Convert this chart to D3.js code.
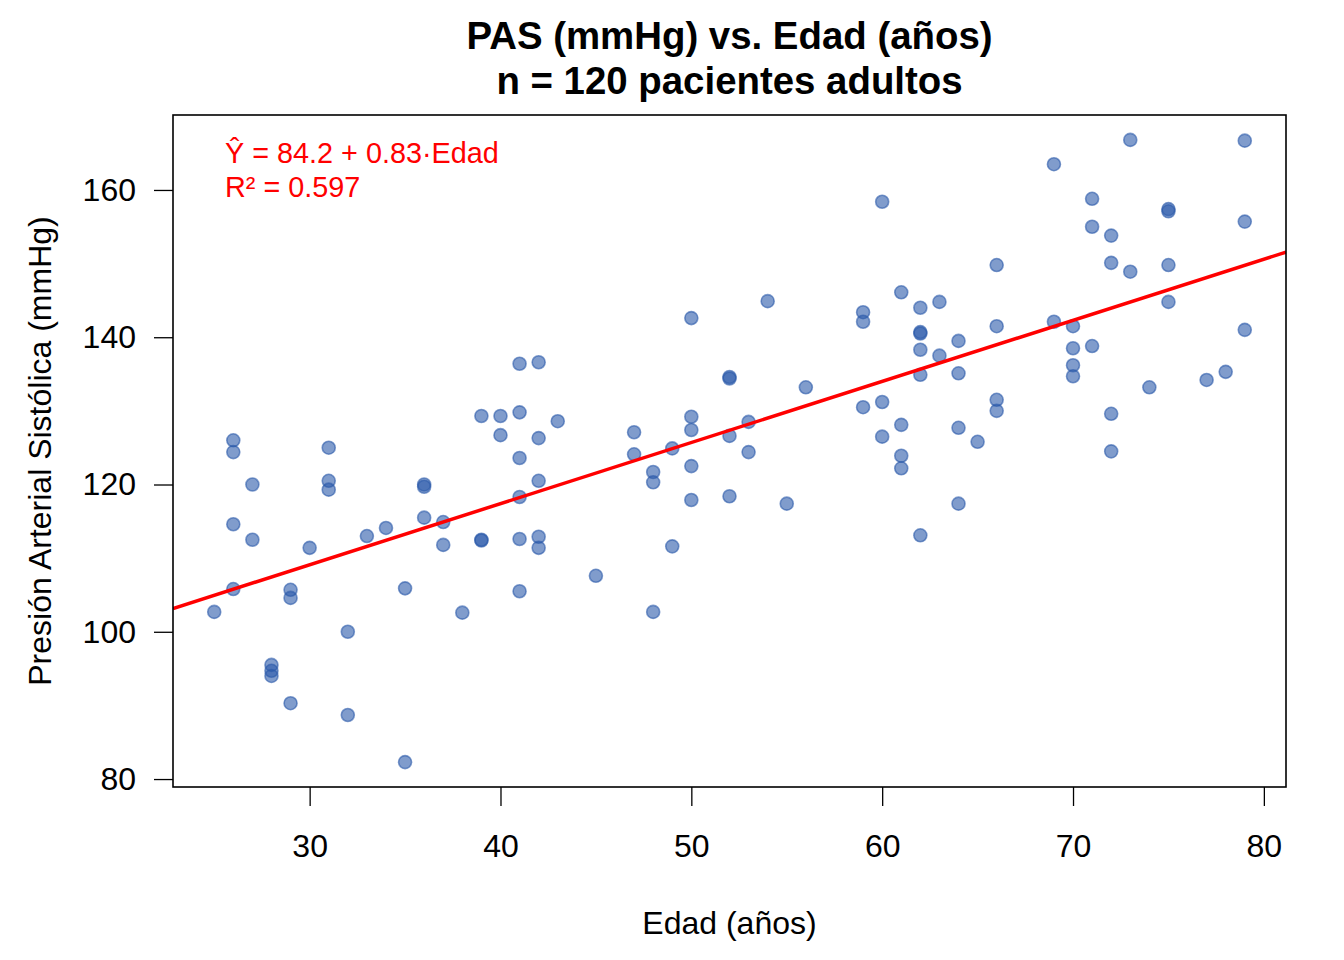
<!DOCTYPE html>
<html>
<head>
<meta charset="utf-8">
<script src="https://cdn.jsdelivr.net/npm/d3@7"></script>
<style>
  body { margin: 0; background: #fff; }
  text { font-family: "Liberation Sans", Arial, Helvetica, sans-serif; }
</style>
</head>
<body>
<div id="container"></div>
<script>
/* CONSTANTS AND GLOBALS */
const width = 1344,
  height = 960,
  margin = { top: 115, bottom: 173, left: 173, right: 58 }

// edad (años) of each patient
const edad = [
  25, 26, 26, 26, 26, 27, 27, 28, 28, 28, 29, 29, 29, 30, 31, 31, 31, 32, 32, 33,
  34, 35, 35, 36, 36, 36, 37, 37, 38, 39, 39, 39, 40, 40, 41, 41, 41, 41, 41, 41,
  42, 42, 42, 42, 42, 43, 45, 47, 47, 48, 48, 48, 49, 49, 50, 50, 50, 50, 50, 52,
  52, 52, 52, 53, 53, 54, 55, 56, 59, 59, 59, 60, 60, 60, 61, 61, 61, 61, 62, 62,
  62, 62, 62, 62, 63, 63, 64, 64, 64, 64, 65, 66, 66, 66, 66, 69, 69, 70, 70, 70,
  70, 71, 71, 71, 72, 72, 72, 72, 73, 73, 74, 75, 75, 75, 75, 77, 78, 79, 79, 79
]
// PAS (mmHg), same order
const pas = [
  102.7, 126.0, 124.4, 114.6, 105.8, 120.0, 112.5, 95.5, 94.7, 94.0, 105.7, 104.6, 90.3, 111.4, 125.0, 120.5, 119.3, 100.0, 88.7, 113.0,
  114.1, 105.9, 82.3, 120.0, 119.7, 115.5, 114.9, 111.8, 102.6, 129.3, 112.5, 112.4, 129.3, 126.7, 136.4, 129.8, 123.6, 118.3, 112.6, 105.5,
  136.6, 126.3, 120.5, 112.9, 111.4, 128.6, 107.6, 127.1, 124.1, 121.7, 120.3, 102.7, 124.9, 111.6, 142.6, 129.2, 127.4, 122.5, 117.9, 134.6,
  134.4, 126.6, 118.4, 128.5, 124.4, 144.9, 117.4, 133.2, 143.4, 142.1, 130.5, 158.4, 131.2, 126.5, 146.1, 128.1, 123.9, 122.2, 144.0, 140.7,
  140.5, 138.3, 134.9, 113.1, 144.8, 137.5, 139.5, 135.1, 127.7, 117.4, 125.8, 149.8, 141.5, 131.5, 130.0, 163.5, 142.1, 141.5, 138.5, 136.2,
  134.7, 158.8, 155.0, 138.8, 153.8, 150.1, 129.6, 124.5, 166.8, 148.9, 133.2, 157.4, 157.1, 149.8, 144.8, 134.2, 135.3, 166.7, 155.7, 141.0
]
const xTicks = [30, 40, 50, 60, 70, 80]
const yTicks = [80, 100, 120, 140, 160]
// fitted line from the label
const intercept = 84.2,
  slope = 0.83

const data = edad.map((d, i) => ({ edad: d, pas: pas[i] }))

// R style axis range: data range plus 4% each side
const pad = ext => [ext[0] - (ext[1] - ext[0]) * 0.04, ext[1] + (ext[1] - ext[0]) * 0.04]

/* SCALES */
const xScale = d3.scaleLinear()
  .domain(pad(d3.extent(edad)))
  .range([margin.left, width - margin.right])

const yScale = d3.scaleLinear()
  .domain(pad(d3.extent(pas)))
  .range([height - margin.bottom, margin.top])

const xAxis = d3.axisBottom(xScale).tickValues(xTicks).tickSize(19).tickPadding(28)
const yAxis = d3.axisLeft(yScale).tickValues(yTicks).tickSize(19).tickPadding(18)

/* HTML ELEMENTS */
const svg = d3.select("#container")
  .append("svg")
  .attr("width", width)
  .attr("height", height)

svg.append("defs").append("clipPath")
  .attr("id", "plotclip")
  .append("rect")
  .attr("x", margin.left)
  .attr("y", margin.top)
  .attr("width", width - margin.left - margin.right)
  .attr("height", height - margin.top - margin.bottom)

// axes
const gx = svg.append("g")
  .attr("transform", `translate(0,${height - margin.bottom})`)
  .call(xAxis)
const gy = svg.append("g")
  .attr("transform", `translate(${margin.left},0)`)
  .call(yAxis)

gx.select(".domain").remove()
gy.select(".domain").remove()
svg.selectAll(".tick line").attr("stroke", "#000").attr("stroke-width", 1.3)
svg.selectAll(".tick text")
  .attr("fill", "#000")
  .style("font-size", "32px")
  .style("font-family", "'Liberation Sans', Arial, sans-serif")

// points
svg.append("g")
  .attr("clip-path", "url(#plotclip)")
  .selectAll("circle.pt")
  .data(data)
  .join("circle")
  .attr("class", "pt")
  .attr("cx", d => xScale(d.edad))
  .attr("cy", d => yScale(d.pas))
  .attr("r", 6.5)
  .style("fill", "#2c5aaa")
  .style("fill-opacity", 0.6)
  .style("stroke", "#2c5aaa")
  .style("stroke-opacity", 0.6)
  .style("stroke-width", 1.6)

// regression line across the plot region
const xd = xScale.domain()
svg.append("line")
  .attr("clip-path", "url(#plotclip)")
  .attr("x1", xScale(xd[0]))
  .attr("y1", yScale(intercept + slope * xd[0]))
  .attr("x2", xScale(xd[1]))
  .attr("y2", yScale(intercept + slope * xd[1]))
  .style("stroke", "#ff0000")
  .style("stroke-width", 3.5)

// box
svg.append("rect")
  .attr("x", margin.left)
  .attr("y", margin.top)
  .attr("width", width - margin.left - margin.right)
  .attr("height", height - margin.top - margin.bottom)
  .style("fill", "none")
  .style("stroke", "#000")
  .style("stroke-width", 1.6)

// equation label
const eq = svg.append("text")
  .style("fill", "#ff0000")
  .style("font-size", "28.8px")
eq.append("tspan").attr("x", margin.left + 52).attr("y", 163).text("Ŷ = 84.2 + 0.83·Edad")
eq.append("tspan").attr("x", margin.left + 52).attr("y", 197).text("R² = 0.597")

// titles
svg.append("text")
  .attr("x", (margin.left + width - margin.right) / 2)
  .attr("y", 49)
  .attr("text-anchor", "middle")
  .style("font-size", "38.4px")
  .style("font-weight", "bold")
  .text("PAS (mmHg) vs. Edad (años)")
svg.append("text")
  .attr("x", (margin.left + width - margin.right) / 2)
  .attr("y", 94)
  .attr("text-anchor", "middle")
  .style("font-size", "38.4px")
  .style("font-weight", "bold")
  .text("n = 120 pacientes adultos")

svg.append("text")
  .attr("x", (margin.left + width - margin.right) / 2)
  .attr("y", 934)
  .attr("text-anchor", "middle")
  .style("font-size", "32px")
  .text("Edad (años)")

svg.append("text")
  .attr("transform", `translate(51,${(margin.top + height - margin.bottom) / 2}) rotate(-90)`)
  .attr("text-anchor", "middle")
  .style("font-size", "32px")
  .text("Presión Arterial Sistólica (mmHg)")
</script>
</body>
</html>
